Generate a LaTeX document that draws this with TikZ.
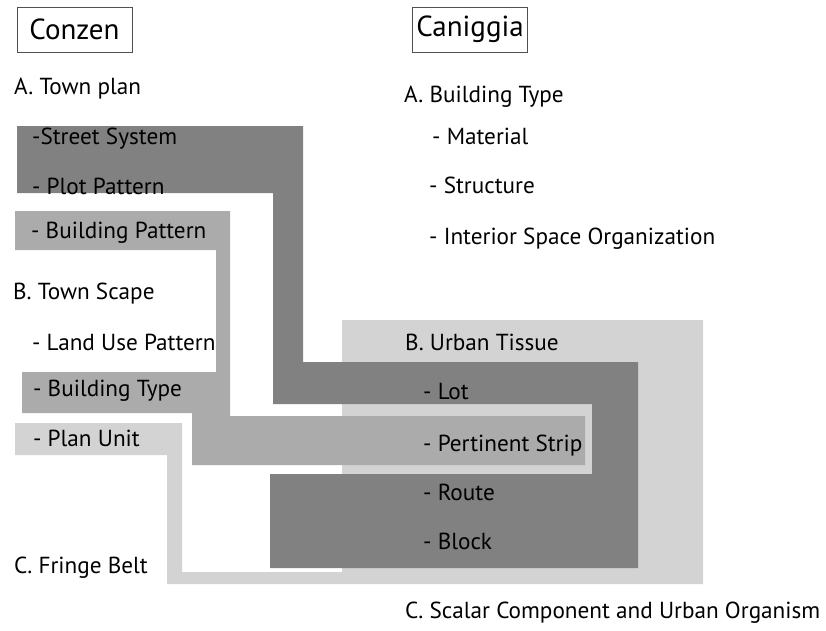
\documentclass[tikz,border=0pt]{standalone}
\usepackage{fontspec}
\setmainfont{PT Sans}
\definecolor{darkg}{HTML}{818181}
\definecolor{midg}{HTML}{ABABAB}
\definecolor{lightg}{HTML}{D3D3D3}
\definecolor{framec}{HTML}{505050}
\begin{document}
\begin{tikzpicture}[x=1pt,y=-1pt,
  lbl/.style={anchor=base west, inner sep=0pt, font=\fontsize{23.2}{27}\selectfont, text=black},
  head/.style={draw=framec, line width=0.8pt, minimum width=115pt, minimum height=45pt, inner sep=0pt, font=\fontsize{29}{33}\selectfont}]
\useasboundingbox (0,0) rectangle (826,630);
% light gray layer (fringe belt / urban tissue)
\fill[lightg] (15,423) -- (182,423) -- (182,572) -- (342,572) -- (342,320) -- (703,320)
  -- (703,584) -- (167,584) -- (167,455) -- (15,455) -- cycle;
% dark gray layer
\fill[darkg] (17,126) -- (303,126) -- (303,362) -- (638,362) -- (638,568) -- (270,568)
  -- (270,474) -- (592,474) -- (592,404) -- (273,404) -- (273,193) -- (17,193) -- cycle;
% medium gray layer
\fill[midg] (15,211) -- (230,211) -- (230,416) -- (585,416) -- (585,465) -- (192,465)
  -- (192,413) -- (22,413) -- (22,372) -- (216,372) -- (216,250) -- (15,250) -- cycle;
% headers
\node[head] (conzen) at (74.5,29.5) {Conzen};
\node[head] (caniggia) at (470,29.5) {Caniggia};
% Conzen column
\node[lbl] (ctp) at (14,94) {A. Town plan};
\node[lbl] (css) at (32,144) {-Street System};
\node[lbl] (cpp) at (32,194) {- Plot Pattern};
\node[lbl] (cbp) at (31,238) {- Building Pattern};
\node[lbl] (cts) at (13,299) {B. Town Scape};
\node[lbl] (clu) at (32,350) {- Land Use Pattern};
\node[lbl] (cbt) at (33,396) {- Building Type};
\node[lbl] (cpu) at (33,446) {- Plan Unit};
\node[lbl] (cfb) at (14,573) {C. Fringe Belt};
% Caniggia column
\node[lbl] (abt) at (404,102) {A. Building Type};
\node[lbl] (amat) at (432,144) {- Material};
\node[lbl] (astr) at (429,193) {- Structure};
\node[lbl] (aint) at (429,244) {- Interior Space Organization};
\node[lbl] (but) at (405,350) {B. Urban Tissue};
\node[lbl] (blot) at (423,399) {- Lot};
\node[lbl] (bps) at (423,451) {- Pertinent Strip};
\node[lbl] (brt) at (423,500) {- Route};
\node[lbl] (bbl) at (423,549) {- Block};
\node[lbl] (csc) at (405,618) {C. Scalar Component and Urban Organism};
\end{tikzpicture}
\end{document}
